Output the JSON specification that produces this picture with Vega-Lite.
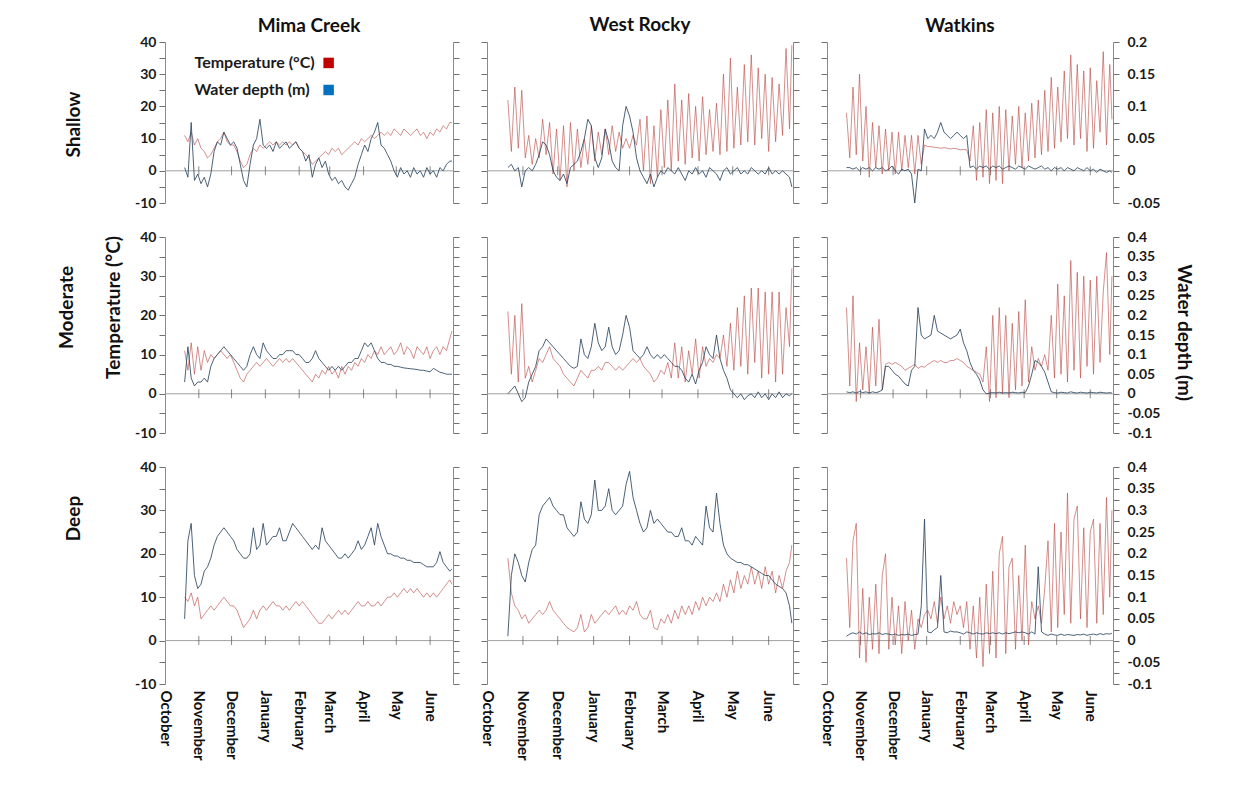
{
"$schema":"https://vega.github.io/schema/vega-lite/v6.json",
"autosize":{"type":"none"},
"padding":{"left":165,"top":42,"right":1090,"bottom":768},
"background":"white",
"config":{"view":{"stroke":null},"font":"Lato","axis":{"labelOverlap":false}},
"datasets":{
"months":[{"m":"2013-11-01"},{"m":"2013-12-01"},{"m":"2014-01-01"},{"m":"2014-02-01"},{"m":"2014-03-01"},{"m":"2014-04-01"},{"m":"2014-05-01"},{"m":"2014-06-01"}],
"MS":[
{"d":"2013-10-19","t":11,"w":0.005},{"d":"2013-10-22","t":9,"w":-0.01},{"d":"2013-10-25","t":12,"w":0.075},{"d":"2013-10-28","t":8,"w":-0.015},{"d":"2013-10-31","t":10,"w":-0.005},
{"d":"2013-11-03","t":7,"w":-0.02},{"d":"2013-11-06","t":6,"w":-0.01},{"d":"2013-11-09","t":4,"w":-0.025},{"d":"2013-11-12","t":5,"w":-0.005},{"d":"2013-11-15","t":7,"w":0.03},
{"d":"2013-11-18","t":9,"w":0.045},{"d":"2013-11-21","t":10,"w":0.04},{"d":"2013-11-24","t":12,"w":0.06},{"d":"2013-11-27","t":9,"w":0.05},{"d":"2013-11-30","t":8,"w":0.04},
{"d":"2013-12-03","t":8,"w":0.045},{"d":"2013-12-06","t":6,"w":0.035},{"d":"2013-12-09","t":3,"w":0.01},{"d":"2013-12-12","t":1,"w":-0.015},{"d":"2013-12-15","t":2,"w":-0.025},
{"d":"2013-12-18","t":5,"w":0.01},{"d":"2013-12-21","t":7,"w":0.04},{"d":"2013-12-24","t":6,"w":0.05},{"d":"2013-12-27","t":8,"w":0.08},{"d":"2013-12-30","t":7,"w":0.04},
{"d":"2014-01-02","t":8,"w":0.035},{"d":"2014-01-05","t":9,"w":0.04},{"d":"2014-01-08","t":8,"w":0.03},{"d":"2014-01-11","t":9,"w":0.045},{"d":"2014-01-14","t":8,"w":0.035},
{"d":"2014-01-17","t":9,"w":0.04},{"d":"2014-01-20","t":8,"w":0.045},{"d":"2014-01-23","t":9,"w":0.035},{"d":"2014-01-26","t":8,"w":0.04},{"d":"2014-01-29","t":9,"w":0.045},
{"d":"2014-02-01","t":7,"w":0.035},{"d":"2014-02-04","t":6,"w":0.03},{"d":"2014-02-07","t":5,"w":0.015},{"d":"2014-02-10","t":4,"w":0.025},{"d":"2014-02-13","t":2,"w":-0.01},
{"d":"2014-02-16","t":3,"w":0.01},{"d":"2014-02-19","t":4,"w":0.02},{"d":"2014-02-22","t":5,"w":0.005},{"d":"2014-02-25","t":6,"w":0.015},{"d":"2014-02-28","t":5,"w":-0.005},
{"d":"2014-03-03","t":7,"w":-0.015},{"d":"2014-03-06","t":6,"w":-0.01},{"d":"2014-03-09","t":7,"w":-0.02},{"d":"2014-03-12","t":5,"w":-0.015},{"d":"2014-03-15","t":6,"w":-0.025},
{"d":"2014-03-18","t":7,"w":-0.03},{"d":"2014-03-21","t":8,"w":-0.02},{"d":"2014-03-24","t":9,"w":-0.01},{"d":"2014-03-27","t":8,"w":0.01},{"d":"2014-03-30","t":10,"w":0.025},
{"d":"2014-04-02","t":9,"w":0.04},{"d":"2014-04-05","t":10,"w":0.03},{"d":"2014-04-08","t":11,"w":0.05},{"d":"2014-04-11","t":10,"w":0.06},{"d":"2014-04-14","t":11,"w":0.075},
{"d":"2014-04-17","t":12,"w":0.04},{"d":"2014-04-20","t":11,"w":0.035},{"d":"2014-04-23","t":12,"w":0.025},{"d":"2014-04-26","t":11,"w":0.015},{"d":"2014-04-29","t":13,"w":0},
{"d":"2014-05-02","t":12,"w":-0.01},{"d":"2014-05-05","t":11,"w":0.005},{"d":"2014-05-08","t":13,"w":-0.005},{"d":"2014-05-11","t":12,"w":0},{"d":"2014-05-14","t":11,"w":-0.01},
{"d":"2014-05-17","t":12,"w":0.005},{"d":"2014-05-20","t":13,"w":-0.005},{"d":"2014-05-23","t":11,"w":0},{"d":"2014-05-26","t":12,"w":-0.01},{"d":"2014-05-29","t":10,"w":0.005},
{"d":"2014-06-01","t":12,"w":-0.005},{"d":"2014-06-04","t":11,"w":0},{"d":"2014-06-07","t":13,"w":-0.01},{"d":"2014-06-10","t":12,"w":0.005},{"d":"2014-06-13","t":14,"w":0},
{"d":"2014-06-16","t":13,"w":0.01},{"d":"2014-06-19","t":15,"w":0.015},{"d":"2014-06-21","t":15,"w":0.015}],
"MM":[
{"d":"2013-10-19","t":11,"w":0.03},{"d":"2013-10-22","t":6,"w":0.12},{"d":"2013-10-25","t":13,"w":0.04},{"d":"2013-10-28","t":5,"w":0.02},{"d":"2013-10-31","t":12,"w":0.03},
{"d":"2013-11-03","t":6,"w":0.03},{"d":"2013-11-06","t":11,"w":0.04},{"d":"2013-11-09","t":8,"w":0.03},{"d":"2013-11-12","t":10,"w":0.07},{"d":"2013-11-15","t":9,"w":0.09},
{"d":"2013-11-18","t":10,"w":0.1},{"d":"2013-11-21","t":11,"w":0.11},{"d":"2013-11-24","t":10,"w":0.12},{"d":"2013-11-27","t":9,"w":0.11},{"d":"2013-11-30","t":10,"w":0.1},
{"d":"2013-12-03","t":8,"w":0.09},{"d":"2013-12-06","t":6,"w":0.08},{"d":"2013-12-09","t":4,"w":0.07},{"d":"2013-12-12","t":3,"w":0.06},{"d":"2013-12-15","t":5,"w":0.07},
{"d":"2013-12-18","t":6,"w":0.1},{"d":"2013-12-21","t":7,"w":0.12},{"d":"2013-12-24","t":8,"w":0.1},{"d":"2013-12-27","t":7,"w":0.09},{"d":"2013-12-30","t":8,"w":0.13},
{"d":"2014-01-02","t":9,"w":0.11},{"d":"2014-01-05","t":8,"w":0.1},{"d":"2014-01-08","t":7,"w":0.09},{"d":"2014-01-11","t":8,"w":0.09},{"d":"2014-01-14","t":9,"w":0.1},
{"d":"2014-01-17","t":8,"w":0.1},{"d":"2014-01-20","t":9,"w":0.11},{"d":"2014-01-23","t":8,"w":0.11},{"d":"2014-01-26","t":9,"w":0.11},{"d":"2014-01-29","t":8,"w":0.1},
{"d":"2014-02-01","t":7,"w":0.1},{"d":"2014-02-04","t":6,"w":0.09},{"d":"2014-02-07","t":5,"w":0.08},{"d":"2014-02-10","t":4,"w":0.08},{"d":"2014-02-13","t":3,"w":0.09},
{"d":"2014-02-16","t":5,"w":0.11},{"d":"2014-02-19","t":4,"w":0.09},{"d":"2014-02-22","t":6,"w":0.08},{"d":"2014-02-25","t":5,"w":0.07},{"d":"2014-02-28","t":7,"w":0.06},
{"d":"2014-03-03","t":5,"w":0.07},{"d":"2014-03-06","t":6,"w":0.06},{"d":"2014-03-09","t":4,"w":0.07},{"d":"2014-03-12","t":7,"w":0.06},{"d":"2014-03-15","t":5,"w":0.07},
{"d":"2014-03-18","t":7,"w":0.08},{"d":"2014-03-21","t":6,"w":0.08},{"d":"2014-03-24","t":8,"w":0.09},{"d":"2014-03-27","t":7,"w":0.09},{"d":"2014-03-30","t":9,"w":0.11},
{"d":"2014-04-02","t":8,"w":0.13},{"d":"2014-04-05","t":10,"w":0.12},{"d":"2014-04-08","t":9,"w":0.13},{"d":"2014-04-11","t":11,"w":0.11},{"d":"2014-04-14","t":10,"w":0.09},
{"d":"2014-04-17","t":12,"w":0.08},{"d":"2014-04-20","t":10,"w":0.08},{"d":"2014-04-23","t":11,"w":0.075},{"d":"2014-04-26","t":12,"w":0.075},{"d":"2014-04-29","t":10,"w":0.07},
{"d":"2014-05-02","t":11,"w":0.07},{"d":"2014-05-05","t":13,"w":0.068},{"d":"2014-05-08","t":10,"w":0.066},{"d":"2014-05-11","t":12,"w":0.065},{"d":"2014-05-14","t":11,"w":0.064},
{"d":"2014-05-17","t":9,"w":0.063},{"d":"2014-05-20","t":12,"w":0.062},{"d":"2014-05-23","t":11,"w":0.06},{"d":"2014-05-26","t":10,"w":0.06},{"d":"2014-05-29","t":12,"w":0.058},
{"d":"2014-06-01","t":9,"w":0.056},{"d":"2014-06-04","t":11,"w":0.065},{"d":"2014-06-07","t":12,"w":0.06},{"d":"2014-06-10","t":10,"w":0.055},{"d":"2014-06-13","t":12,"w":0.053},
{"d":"2014-06-16","t":11,"w":0.05},{"d":"2014-06-19","t":14,"w":0.05},{"d":"2014-06-21","t":16,"w":0.05}],
"MD":[
{"d":"2013-10-19","t":10,"w":0.05},{"d":"2013-10-22","t":9,"w":0.23},{"d":"2013-10-25","t":11,"w":0.27},{"d":"2013-10-28","t":8,"w":0.15},{"d":"2013-10-31","t":10,"w":0.12},
{"d":"2013-11-03","t":5,"w":0.13},{"d":"2013-11-06","t":6,"w":0.16},{"d":"2013-11-09","t":7,"w":0.17},{"d":"2013-11-12","t":8,"w":0.19},{"d":"2013-11-15","t":7,"w":0.22},
{"d":"2013-11-18","t":8,"w":0.24},{"d":"2013-11-21","t":9,"w":0.25},{"d":"2013-11-24","t":10,"w":0.26},{"d":"2013-11-27","t":9,"w":0.25},{"d":"2013-11-30","t":8,"w":0.24},
{"d":"2013-12-03","t":8,"w":0.23},{"d":"2013-12-06","t":7,"w":0.21},{"d":"2013-12-09","t":5,"w":0.2},{"d":"2013-12-12","t":3,"w":0.19},{"d":"2013-12-15","t":4,"w":0.19},
{"d":"2013-12-18","t":5,"w":0.2},{"d":"2013-12-21","t":7,"w":0.26},{"d":"2013-12-24","t":5,"w":0.21},{"d":"2013-12-27","t":7,"w":0.22},{"d":"2013-12-30","t":8,"w":0.27},
{"d":"2014-01-02","t":7,"w":0.22},{"d":"2014-01-05","t":8,"w":0.23},{"d":"2014-01-08","t":9,"w":0.24},{"d":"2014-01-11","t":8,"w":0.24},{"d":"2014-01-14","t":8,"w":0.26},
{"d":"2014-01-17","t":7,"w":0.23},{"d":"2014-01-20","t":8,"w":0.23},{"d":"2014-01-23","t":7,"w":0.25},{"d":"2014-01-26","t":8,"w":0.27},{"d":"2014-01-29","t":9,"w":0.26},
{"d":"2014-02-01","t":8,"w":0.25},{"d":"2014-02-04","t":9,"w":0.24},{"d":"2014-02-07","t":8,"w":0.23},{"d":"2014-02-10","t":7,"w":0.22},{"d":"2014-02-13","t":6,"w":0.21},
{"d":"2014-02-16","t":5,"w":0.22},{"d":"2014-02-19","t":4,"w":0.21},{"d":"2014-02-22","t":4,"w":0.26},{"d":"2014-02-25","t":5,"w":0.23},{"d":"2014-02-28","t":6,"w":0.22},
{"d":"2014-03-03","t":5,"w":0.21},{"d":"2014-03-06","t":6,"w":0.2},{"d":"2014-03-09","t":7,"w":0.19},{"d":"2014-03-12","t":6,"w":0.19},{"d":"2014-03-15","t":7,"w":0.2},
{"d":"2014-03-18","t":6,"w":0.19},{"d":"2014-03-21","t":7,"w":0.2},{"d":"2014-03-24","t":8,"w":0.21},{"d":"2014-03-27","t":9,"w":0.23},{"d":"2014-03-30","t":8,"w":0.21},
{"d":"2014-04-02","t":8,"w":0.22},{"d":"2014-04-05","t":9,"w":0.24},{"d":"2014-04-08","t":8,"w":0.26},{"d":"2014-04-11","t":8,"w":0.22},{"d":"2014-04-14","t":9,"w":0.27},
{"d":"2014-04-17","t":8,"w":0.24},{"d":"2014-04-20","t":9,"w":0.22},{"d":"2014-04-23","t":10,"w":0.2},{"d":"2014-04-26","t":10,"w":0.2},{"d":"2014-04-29","t":11,"w":0.195},
{"d":"2014-05-02","t":10,"w":0.195},{"d":"2014-05-05","t":11,"w":0.19},{"d":"2014-05-08","t":12,"w":0.19},{"d":"2014-05-11","t":11,"w":0.185},{"d":"2014-05-14","t":12,"w":0.185},
{"d":"2014-05-17","t":11,"w":0.18},{"d":"2014-05-20","t":12,"w":0.18},{"d":"2014-05-23","t":11,"w":0.18},{"d":"2014-05-26","t":10,"w":0.175},{"d":"2014-05-29","t":11,"w":0.17},
{"d":"2014-06-01","t":10,"w":0.17},{"d":"2014-06-04","t":11,"w":0.17},{"d":"2014-06-07","t":10,"w":0.18},{"d":"2014-06-10","t":11,"w":0.205},{"d":"2014-06-13","t":12,"w":0.18},
{"d":"2014-06-16","t":13,"w":0.17},{"d":"2014-06-19","t":14,"w":0.16},{"d":"2014-06-21","t":13,"w":0.165}],
"WS":[
{"d":"2013-10-19","t":22,"w":0.005},{"d":"2013-10-22","t":6,"w":0.01},{"d":"2013-10-25","t":26,"w":0},{"d":"2013-10-28","t":7,"w":0.005},{"d":"2013-10-31","t":25,"w":-0.025},
{"d":"2013-11-03","t":4,"w":0},{"d":"2013-11-06","t":11,"w":0.005},{"d":"2013-11-09","t":2,"w":0},{"d":"2013-11-12","t":10,"w":0.01},{"d":"2013-11-15","t":4,"w":0.025},
{"d":"2013-11-18","t":16,"w":0.045},{"d":"2013-11-21","t":5,"w":0.04},{"d":"2013-11-24","t":15,"w":0.025},{"d":"2013-11-27","t":-1,"w":0},{"d":"2013-11-30","t":13,"w":-0.01},
{"d":"2013-12-03","t":-3,"w":-0.015},{"d":"2013-12-06","t":14,"w":-0.005},{"d":"2013-12-09","t":-5,"w":-0.02},{"d":"2013-12-12","t":15,"w":0.005},{"d":"2013-12-15","t":0,"w":0.01},
{"d":"2013-12-18","t":13,"w":0.015},{"d":"2013-12-21","t":1,"w":0.03},{"d":"2013-12-24","t":10,"w":0.05},{"d":"2013-12-27","t":2,"w":0.08},{"d":"2013-12-30","t":14,"w":0.07},
{"d":"2014-01-02","t":3,"w":0.02},{"d":"2014-01-05","t":12,"w":0.005},{"d":"2014-01-08","t":5,"w":0.02},{"d":"2014-01-11","t":13,"w":0.065},{"d":"2014-01-14","t":5,"w":0.045},
{"d":"2014-01-17","t":14,"w":0.015},{"d":"2014-01-20","t":6,"w":0.005},{"d":"2014-01-23","t":12,"w":0},{"d":"2014-01-26","t":7,"w":0.07},{"d":"2014-01-29","t":10,"w":0.1},
{"d":"2014-02-01","t":7,"w":0.085},{"d":"2014-02-04","t":11,"w":0.06},{"d":"2014-02-07","t":8,"w":0.02},{"d":"2014-02-10","t":16,"w":0},{"d":"2014-02-13","t":0,"w":-0.01},
{"d":"2014-02-16","t":17,"w":-0.02},{"d":"2014-02-19","t":-4,"w":-0.005},{"d":"2014-02-22","t":14,"w":-0.025},{"d":"2014-02-25","t":-2,"w":-0.01},{"d":"2014-02-28","t":19,"w":0},
{"d":"2014-03-03","t":1,"w":-0.005},{"d":"2014-03-06","t":22,"w":0.005},{"d":"2014-03-09","t":0,"w":0},{"d":"2014-03-12","t":27,"w":-0.005},{"d":"2014-03-15","t":3,"w":0.005},
{"d":"2014-03-18","t":22,"w":-0.005},{"d":"2014-03-21","t":2,"w":-0.015},{"d":"2014-03-24","t":24,"w":0},{"d":"2014-03-27","t":4,"w":-0.005},{"d":"2014-03-30","t":20,"w":0.005},
{"d":"2014-04-02","t":3,"w":-0.005},{"d":"2014-04-05","t":23,"w":0},{"d":"2014-04-08","t":5,"w":-0.01},{"d":"2014-04-11","t":19,"w":0.005},{"d":"2014-04-14","t":6,"w":0},
{"d":"2014-04-17","t":21,"w":-0.005},{"d":"2014-04-20","t":5,"w":-0.015},{"d":"2014-04-23","t":30,"w":0},{"d":"2014-04-26","t":6,"w":0.005},{"d":"2014-04-29","t":35,"w":-0.005},
{"d":"2014-05-02","t":7,"w":0},{"d":"2014-05-05","t":26,"w":0.005},{"d":"2014-05-08","t":8,"w":-0.005},{"d":"2014-05-11","t":33,"w":0},{"d":"2014-05-14","t":9,"w":-0.005},
{"d":"2014-05-17","t":36,"w":0.005},{"d":"2014-05-20","t":8,"w":0},{"d":"2014-05-23","t":32,"w":-0.005},{"d":"2014-05-26","t":10,"w":0},{"d":"2014-05-29","t":30,"w":-0.005},
{"d":"2014-06-01","t":6,"w":0.005},{"d":"2014-06-04","t":29,"w":-0.005},{"d":"2014-06-07","t":9,"w":0},{"d":"2014-06-10","t":27,"w":-0.005},{"d":"2014-06-13","t":11,"w":0},
{"d":"2014-06-16","t":38,"w":-0.005},{"d":"2014-06-19","t":13,"w":-0.01},{"d":"2014-06-21","t":39,"w":-0.025}],
"WM":[
{"d":"2013-10-19","t":21,"w":0},{"d":"2013-10-22","t":5,"w":0.01},{"d":"2013-10-25","t":20,"w":0.02},{"d":"2013-10-28","t":3,"w":0},{"d":"2013-10-31","t":23,"w":-0.02},
{"d":"2013-11-03","t":4,"w":-0.01},{"d":"2013-11-06","t":7,"w":0.03},{"d":"2013-11-09","t":3,"w":0.05},{"d":"2013-11-12","t":6,"w":0.07},{"d":"2013-11-15","t":9,"w":0.11},
{"d":"2013-11-18","t":8,"w":0.12},{"d":"2013-11-21","t":10,"w":0.14},{"d":"2013-11-24","t":12,"w":0.13},{"d":"2013-11-27","t":9,"w":0.12},{"d":"2013-11-30","t":8,"w":0.11},
{"d":"2013-12-03","t":7,"w":0.1},{"d":"2013-12-06","t":5,"w":0.09},{"d":"2013-12-09","t":4,"w":0.08},{"d":"2013-12-12","t":3,"w":0.07},{"d":"2013-12-15","t":2,"w":0.065},
{"d":"2013-12-18","t":4,"w":0.07},{"d":"2013-12-21","t":6,"w":0.14},{"d":"2013-12-24","t":5,"w":0.1},{"d":"2013-12-27","t":4,"w":0.09},{"d":"2013-12-30","t":6,"w":0.12},
{"d":"2014-01-02","t":6,"w":0.18},{"d":"2014-01-05","t":7,"w":0.13},{"d":"2014-01-08","t":6,"w":0.11},{"d":"2014-01-11","t":8,"w":0.12},{"d":"2014-01-14","t":8,"w":0.17},
{"d":"2014-01-17","t":7,"w":0.12},{"d":"2014-01-20","t":6,"w":0.1},{"d":"2014-01-23","t":7,"w":0.11},{"d":"2014-01-26","t":6,"w":0.15},{"d":"2014-01-29","t":7,"w":0.2},
{"d":"2014-02-01","t":8,"w":0.17},{"d":"2014-02-04","t":9,"w":0.11},{"d":"2014-02-07","t":8,"w":0.1},{"d":"2014-02-10","t":9,"w":0.09},{"d":"2014-02-13","t":7,"w":0.1},
{"d":"2014-02-16","t":6,"w":0.12},{"d":"2014-02-19","t":5,"w":0.1},{"d":"2014-02-22","t":3,"w":0.09},{"d":"2014-02-25","t":4,"w":0.1},{"d":"2014-02-28","t":6,"w":0.09},
{"d":"2014-03-03","t":5,"w":0.1},{"d":"2014-03-06","t":8,"w":0.09},{"d":"2014-03-09","t":4,"w":0.08},{"d":"2014-03-12","t":13,"w":0.07},{"d":"2014-03-15","t":4,"w":0.07},
{"d":"2014-03-18","t":12,"w":0.06},{"d":"2014-03-21","t":3,"w":0.04},{"d":"2014-03-24","t":11,"w":0.03},{"d":"2014-03-27","t":5,"w":0.05},{"d":"2014-03-30","t":14,"w":0.025},
{"d":"2014-04-02","t":4,"w":0.06},{"d":"2014-04-05","t":12,"w":0.08},{"d":"2014-04-08","t":7,"w":0.12},{"d":"2014-04-11","t":9,"w":0.1},{"d":"2014-04-14","t":8,"w":0.09},
{"d":"2014-04-17","t":10,"w":0.15},{"d":"2014-04-20","t":9,"w":0.09},{"d":"2014-04-23","t":15,"w":0.06},{"d":"2014-04-26","t":7,"w":0.04},{"d":"2014-04-29","t":18,"w":0.01},
{"d":"2014-05-02","t":6,"w":0},{"d":"2014-05-05","t":22,"w":-0.01},{"d":"2014-05-08","t":7,"w":0},{"d":"2014-05-11","t":25,"w":-0.015},{"d":"2014-05-14","t":5,"w":-0.005},
{"d":"2014-05-17","t":27,"w":0},{"d":"2014-05-20","t":8,"w":-0.01},{"d":"2014-05-23","t":27,"w":0.005},{"d":"2014-05-26","t":4,"w":-0.01},{"d":"2014-05-29","t":26,"w":0},
{"d":"2014-06-01","t":5,"w":-0.015},{"d":"2014-06-04","t":26,"w":0},{"d":"2014-06-07","t":3,"w":-0.01},{"d":"2014-06-10","t":26,"w":0.005},{"d":"2014-06-13","t":5,"w":-0.01},
{"d":"2014-06-16","t":22,"w":0},{"d":"2014-06-19","t":12,"w":-0.005},{"d":"2014-06-21","t":32,"w":0}],
"WD":[
{"d":"2013-10-19","t":19,"w":0.01},{"d":"2013-10-22","t":11,"w":0.15},{"d":"2013-10-25","t":8,"w":0.2},{"d":"2013-10-28","t":7,"w":0.18},{"d":"2013-10-31","t":5,"w":0.15},
{"d":"2013-11-03","t":6,"w":0.135},{"d":"2013-11-06","t":4,"w":0.18},{"d":"2013-11-09","t":5,"w":0.21},{"d":"2013-11-12","t":6,"w":0.22},{"d":"2013-11-15","t":7,"w":0.29},
{"d":"2013-11-18","t":6,"w":0.31},{"d":"2013-11-21","t":7,"w":0.32},{"d":"2013-11-24","t":9,"w":0.33},{"d":"2013-11-27","t":7,"w":0.31},{"d":"2013-11-30","t":6,"w":0.3},
{"d":"2013-12-03","t":5,"w":0.29},{"d":"2013-12-06","t":4,"w":0.29},{"d":"2013-12-09","t":3,"w":0.26},{"d":"2013-12-12","t":2.5,"w":0.25},{"d":"2013-12-15","t":2,"w":0.24},
{"d":"2013-12-18","t":3,"w":0.25},{"d":"2013-12-21","t":6,"w":0.32},{"d":"2013-12-24","t":2,"w":0.28},{"d":"2013-12-27","t":3,"w":0.27},{"d":"2013-12-30","t":6,"w":0.29},
{"d":"2014-01-02","t":4,"w":0.37},{"d":"2014-01-05","t":5,"w":0.3},{"d":"2014-01-08","t":6,"w":0.3},{"d":"2014-01-11","t":7,"w":0.31},{"d":"2014-01-14","t":6,"w":0.35},
{"d":"2014-01-17","t":7,"w":0.3},{"d":"2014-01-20","t":8,"w":0.29},{"d":"2014-01-23","t":6,"w":0.3},{"d":"2014-01-26","t":7,"w":0.31},{"d":"2014-01-29","t":6,"w":0.36},
{"d":"2014-02-01","t":8,"w":0.39},{"d":"2014-02-04","t":7,"w":0.33},{"d":"2014-02-07","t":9,"w":0.3},{"d":"2014-02-10","t":6,"w":0.27},{"d":"2014-02-13","t":5,"w":0.25},
{"d":"2014-02-16","t":5,"w":0.26},{"d":"2014-02-19","t":7,"w":0.3},{"d":"2014-02-22","t":3,"w":0.27},{"d":"2014-02-25","t":2.5,"w":0.28},{"d":"2014-02-28","t":5,"w":0.27},
{"d":"2014-03-03","t":4,"w":0.26},{"d":"2014-03-06","t":6,"w":0.25},{"d":"2014-03-09","t":4,"w":0.25},{"d":"2014-03-12","t":7,"w":0.24},{"d":"2014-03-15","t":5,"w":0.24},
{"d":"2014-03-18","t":8,"w":0.26},{"d":"2014-03-21","t":6,"w":0.23},{"d":"2014-03-24","t":8,"w":0.23},{"d":"2014-03-27","t":6,"w":0.22},{"d":"2014-03-30","t":9,"w":0.24},
{"d":"2014-04-02","t":7,"w":0.23},{"d":"2014-04-05","t":10,"w":0.22},{"d":"2014-04-08","t":8,"w":0.31},{"d":"2014-04-11","t":10,"w":0.26},{"d":"2014-04-14","t":9,"w":0.25},
{"d":"2014-04-17","t":11,"w":0.34},{"d":"2014-04-20","t":9,"w":0.27},{"d":"2014-04-23","t":13,"w":0.22},{"d":"2014-04-26","t":10,"w":0.2},{"d":"2014-04-29","t":14,"w":0.19},
{"d":"2014-05-02","t":11,"w":0.185},{"d":"2014-05-05","t":16,"w":0.18},{"d":"2014-05-08","t":12,"w":0.18},{"d":"2014-05-11","t":15,"w":0.175},{"d":"2014-05-14","t":13,"w":0.175},
{"d":"2014-05-17","t":17,"w":0.17},{"d":"2014-05-20","t":13,"w":0.165},{"d":"2014-05-23","t":16,"w":0.16},{"d":"2014-05-26","t":12,"w":0.155},{"d":"2014-05-29","t":17,"w":0.15},
{"d":"2014-06-01","t":13,"w":0.15},{"d":"2014-06-04","t":16,"w":0.14},{"d":"2014-06-07","t":11,"w":0.13},{"d":"2014-06-10","t":15,"w":0.125},{"d":"2014-06-13","t":12,"w":0.12},
{"d":"2014-06-16","t":16,"w":0.11},{"d":"2014-06-19","t":18,"w":0.08},{"d":"2014-06-21","t":22,"w":0.04}],
"KS":[
{"d":"2013-10-19","t":18,"w":0.005},{"d":"2013-10-22","t":4,"w":0.005},{"d":"2013-10-25","t":26,"w":0.0025},{"d":"2013-10-28","t":5,"w":0.005},{"d":"2013-10-31","t":30,"w":0},
{"d":"2013-11-03","t":3,"w":0.005},{"d":"2013-11-06","t":20,"w":0.0025},{"d":"2013-11-09","t":-2,"w":0.005},{"d":"2013-11-12","t":15,"w":0},{"d":"2013-11-15","t":1,"w":0.005},
{"d":"2013-11-18","t":14,"w":0.0025},{"d":"2013-11-21","t":-1,"w":0.005},{"d":"2013-11-24","t":13,"w":0},{"d":"2013-11-27","t":0,"w":0.0025},{"d":"2013-11-30","t":12,"w":0.0075},
{"d":"2013-12-03","t":-1,"w":0},{"d":"2013-12-06","t":12,"w":-0.005},{"d":"2013-12-09","t":0,"w":0.0025},{"d":"2013-12-12","t":11,"w":0},{"d":"2013-12-15","t":1,"w":0.0025},
{"d":"2013-12-18","t":11,"w":-0.005},{"d":"2013-12-21","t":-1,"w":-0.05},{"d":"2013-12-24","t":11,"w":0.0025},{"d":"2013-12-27","t":2,"w":0},{"d":"2013-12-30","t":8,"w":0.065},
{"d":"2014-01-02","t":7.5,"w":0.05},{"d":"2014-01-05","t":7.5,"w":0.055},{"d":"2014-01-08","t":7.3,"w":0.05},{"d":"2014-01-11","t":7.2,"w":0.06},{"d":"2014-01-14","t":7,"w":0.075},
{"d":"2014-01-17","t":7.2,"w":0.06},{"d":"2014-01-20","t":7,"w":0.055},{"d":"2014-01-23","t":6.8,"w":0.05},{"d":"2014-01-26","t":7,"w":0.055},{"d":"2014-01-29","t":6.8,"w":0.06},
{"d":"2014-02-01","t":6.5,"w":0.055},{"d":"2014-02-04","t":6.6,"w":0.05},{"d":"2014-02-07","t":6.5,"w":0.055},{"d":"2014-02-10","t":3,"w":0.005},{"d":"2014-02-13","t":14,"w":0.0075},
{"d":"2014-02-16","t":-3,"w":0.0025},{"d":"2014-02-19","t":15,"w":0.0075},{"d":"2014-02-22","t":-2,"w":0.005},{"d":"2014-02-25","t":19,"w":0.0075},{"d":"2014-02-28","t":-4,"w":0.0025},
{"d":"2014-03-03","t":18,"w":0.0075},{"d":"2014-03-06","t":-3,"w":0.005},{"d":"2014-03-09","t":20,"w":0.0075},{"d":"2014-03-12","t":-4,"w":0.0025},{"d":"2014-03-15","t":19,"w":0.005},
{"d":"2014-03-18","t":0,"w":0.0075},{"d":"2014-03-21","t":17,"w":0.005},{"d":"2014-03-24","t":2,"w":0.0025},{"d":"2014-03-27","t":20,"w":0.0075},{"d":"2014-03-30","t":1,"w":0.005},
{"d":"2014-04-02","t":18,"w":0.0025},{"d":"2014-04-05","t":3,"w":0.0075},{"d":"2014-04-08","t":21,"w":0.005},{"d":"2014-04-11","t":4,"w":0.0025},{"d":"2014-04-14","t":22,"w":0.005},
{"d":"2014-04-17","t":5,"w":0.0075},{"d":"2014-04-20","t":25,"w":0.0025},{"d":"2014-04-23","t":6,"w":0.005},{"d":"2014-04-26","t":29,"w":0},{"d":"2014-04-29","t":7,"w":0.005},
{"d":"2014-05-02","t":26,"w":0.0025},{"d":"2014-05-05","t":9,"w":0.005},{"d":"2014-05-08","t":31,"w":0},{"d":"2014-05-11","t":10,"w":0.005},{"d":"2014-05-14","t":36,"w":0.0025},
{"d":"2014-05-17","t":8,"w":0},{"d":"2014-05-20","t":33,"w":0.005},{"d":"2014-05-23","t":10,"w":0.0025},{"d":"2014-05-26","t":31,"w":0},{"d":"2014-05-29","t":6,"w":0.005},
{"d":"2014-06-01","t":32,"w":0},{"d":"2014-06-04","t":7,"w":0.0025},{"d":"2014-06-07","t":28,"w":-0.0025},{"d":"2014-06-10","t":12,"w":0.0025},{"d":"2014-06-13","t":37,"w":0},
{"d":"2014-06-16","t":8,"w":-0.0025},{"d":"2014-06-19","t":33,"w":0},{"d":"2014-06-21","t":16,"w":-0.0025}],
"KM":[
{"d":"2013-10-19","t":22,"w":0.005},{"d":"2013-10-22","t":2,"w":0.003},{"d":"2013-10-25","t":25,"w":0.005},{"d":"2013-10-28","t":-2,"w":0.002},{"d":"2013-10-31","t":13,"w":0.006},
{"d":"2013-11-03","t":1,"w":0.003},{"d":"2013-11-06","t":12,"w":0.005},{"d":"2013-11-09","t":0,"w":0.002},{"d":"2013-11-12","t":17,"w":0.005},{"d":"2013-11-15","t":2,"w":0.003},
{"d":"2013-11-18","t":19,"w":0.005},{"d":"2013-11-21","t":1,"w":0.01},{"d":"2013-11-24","t":7.5,"w":0.07},{"d":"2013-11-27","t":8,"w":0.07},{"d":"2013-11-30","t":7.5,"w":0.06},
{"d":"2013-12-03","t":8,"w":0.05},{"d":"2013-12-06","t":7.5,"w":0.045},{"d":"2013-12-09","t":7,"w":0.035},{"d":"2013-12-12","t":6,"w":0.025},{"d":"2013-12-15","t":6.5,"w":0.02},
{"d":"2013-12-18","t":7,"w":0.06},{"d":"2013-12-21","t":7.5,"w":0.07},{"d":"2013-12-24","t":6.5,"w":0.22},{"d":"2013-12-27","t":7,"w":0.15},{"d":"2013-12-30","t":6.8,"w":0.14},
{"d":"2014-01-02","t":7.5,"w":0.145},{"d":"2014-01-05","t":8,"w":0.15},{"d":"2014-01-08","t":8.5,"w":0.2},{"d":"2014-01-11","t":8,"w":0.16},{"d":"2014-01-14","t":8.5,"w":0.155},
{"d":"2014-01-17","t":8,"w":0.15},{"d":"2014-01-20","t":8,"w":0.145},{"d":"2014-01-23","t":8.5,"w":0.14},{"d":"2014-01-26","t":8.5,"w":0.145},{"d":"2014-01-29","t":9,"w":0.15},
{"d":"2014-02-01","t":8.5,"w":0.165},{"d":"2014-02-04","t":8,"w":0.13},{"d":"2014-02-07","t":7,"w":0.11},{"d":"2014-02-10","t":6.5,"w":0.08},{"d":"2014-02-13","t":6,"w":0.06},
{"d":"2014-02-16","t":5.5,"w":0.05},{"d":"2014-02-19","t":5,"w":0.035},{"d":"2014-02-22","t":3,"w":0.01},{"d":"2014-02-25","t":12,"w":0},{"d":"2014-02-28","t":-2,"w":0.002},
{"d":"2014-03-03","t":20,"w":0.003},{"d":"2014-03-06","t":-1,"w":0.002},{"d":"2014-03-09","t":22,"w":0.004},{"d":"2014-03-12","t":0,"w":0.002},{"d":"2014-03-15","t":20,"w":0.003},
{"d":"2014-03-18","t":-1,"w":0.002},{"d":"2014-03-21","t":18,"w":0.004},{"d":"2014-03-24","t":1,"w":0.003},{"d":"2014-03-27","t":21,"w":0.002},{"d":"2014-03-30","t":2,"w":0.004},
{"d":"2014-04-02","t":24,"w":0.003},{"d":"2014-04-05","t":3,"w":0.02},{"d":"2014-04-08","t":12,"w":0.05},{"d":"2014-04-11","t":6,"w":0.085},{"d":"2014-04-14","t":9,"w":0.08},
{"d":"2014-04-17","t":7,"w":0.07},{"d":"2014-04-20","t":10,"w":0.055},{"d":"2014-04-23","t":6,"w":0.03},{"d":"2014-04-26","t":20,"w":0.005},{"d":"2014-04-29","t":4,"w":0.003},
{"d":"2014-05-02","t":28,"w":0.002},{"d":"2014-05-05","t":5,"w":0.004},{"d":"2014-05-08","t":25,"w":0.003},{"d":"2014-05-11","t":3,"w":0.002},{"d":"2014-05-14","t":34,"w":0.005},
{"d":"2014-05-17","t":6,"w":0.003},{"d":"2014-05-20","t":31,"w":0.002},{"d":"2014-05-23","t":4,"w":0.004},{"d":"2014-05-26","t":30,"w":0.003},{"d":"2014-05-29","t":7,"w":0.002},
{"d":"2014-06-01","t":29,"w":0.004},{"d":"2014-06-04","t":5,"w":0.003},{"d":"2014-06-07","t":30,"w":0.002},{"d":"2014-06-10","t":8,"w":0.004},{"d":"2014-06-13","t":26,"w":0.003},
{"d":"2014-06-16","t":36,"w":0.002},{"d":"2014-06-19","t":10,"w":0.003},{"d":"2014-06-21","t":30,"w":0.002}],
"KD":[
{"d":"2013-10-19","t":19,"w":0.01},{"d":"2013-10-22","t":3,"w":0.015},{"d":"2013-10-25","t":23,"w":0.018},{"d":"2013-10-28","t":27,"w":0.015},{"d":"2013-10-31","t":-4,"w":0.02},
{"d":"2013-11-03","t":12,"w":0.015},{"d":"2013-11-06","t":-5,"w":0.018},{"d":"2013-11-09","t":10,"w":0.014},{"d":"2013-11-12","t":-2,"w":0.016},{"d":"2013-11-15","t":13,"w":0.015},
{"d":"2013-11-18","t":-3,"w":0.018},{"d":"2013-11-21","t":15,"w":0.014},{"d":"2013-11-24","t":20,"w":0.016},{"d":"2013-11-27","t":-2,"w":0.015},{"d":"2013-11-30","t":10,"w":0.013},
{"d":"2013-12-03","t":-1,"w":0.015},{"d":"2013-12-06","t":8,"w":0.012},{"d":"2013-12-09","t":-3,"w":0.014},{"d":"2013-12-12","t":9,"w":0.013},{"d":"2013-12-15","t":0,"w":0.015},
{"d":"2013-12-18","t":7,"w":0.012},{"d":"2013-12-21","t":-2,"w":0.014},{"d":"2013-12-24","t":5,"w":0.015},{"d":"2013-12-27","t":3,"w":0.08},{"d":"2013-12-30","t":6,"w":0.28},
{"d":"2014-01-02","t":7,"w":0.02},{"d":"2014-01-05","t":5,"w":0.018},{"d":"2014-01-08","t":9,"w":0.025},{"d":"2014-01-11","t":4,"w":0.03},{"d":"2014-01-14","t":10,"w":0.15},
{"d":"2014-01-17","t":5,"w":0.02},{"d":"2014-01-20","t":8,"w":0.018},{"d":"2014-01-23","t":4,"w":0.022},{"d":"2014-01-26","t":9,"w":0.02},{"d":"2014-01-29","t":6,"w":0.02},
{"d":"2014-02-01","t":8,"w":0.018},{"d":"2014-02-04","t":3,"w":0.015},{"d":"2014-02-07","t":9,"w":0.02},{"d":"2014-02-10","t":-2,"w":0.018},{"d":"2014-02-13","t":8,"w":0.015},
{"d":"2014-02-16","t":-4,"w":0.018},{"d":"2014-02-19","t":10,"w":0.016},{"d":"2014-02-22","t":-6,"w":0.015},{"d":"2014-02-25","t":13,"w":0.018},{"d":"2014-02-28","t":-3,"w":0.016},
{"d":"2014-03-03","t":16,"w":0.018},{"d":"2014-03-06","t":-4,"w":0.016},{"d":"2014-03-09","t":20,"w":0.018},{"d":"2014-03-12","t":24,"w":0.015},{"d":"2014-03-15","t":-3,"w":0.018},
{"d":"2014-03-18","t":17,"w":0.016},{"d":"2014-03-21","t":19,"w":0.018},{"d":"2014-03-24","t":-2,"w":0.02},{"d":"2014-03-27","t":15,"w":0.018},{"d":"2014-03-30","t":0,"w":0.02},
{"d":"2014-04-02","t":22,"w":0.018},{"d":"2014-04-05","t":-1,"w":0.015},{"d":"2014-04-08","t":9,"w":0.02},{"d":"2014-04-11","t":5,"w":0.015},{"d":"2014-04-14","t":8,"w":0.17},
{"d":"2014-04-17","t":4,"w":0.02},{"d":"2014-04-20","t":12,"w":0.015},{"d":"2014-04-23","t":23,"w":0.012},{"d":"2014-04-26","t":2,"w":0.015},{"d":"2014-04-29","t":27,"w":0.013},
{"d":"2014-05-02","t":3,"w":0.012},{"d":"2014-05-05","t":25,"w":0.015},{"d":"2014-05-08","t":6,"w":0.012},{"d":"2014-05-11","t":34,"w":0.014},{"d":"2014-05-14","t":4,"w":0.013},
{"d":"2014-05-17","t":28,"w":0.012},{"d":"2014-05-20","t":31,"w":0.014},{"d":"2014-05-23","t":5,"w":0.013},{"d":"2014-05-26","t":26,"w":0.015},{"d":"2014-05-29","t":3,"w":0.012},
{"d":"2014-06-01","t":25,"w":0.014},{"d":"2014-06-04","t":28,"w":0.015},{"d":"2014-06-07","t":4,"w":0.013},{"d":"2014-06-10","t":27,"w":0.016},{"d":"2014-06-13","t":6,"w":0.014},
{"d":"2014-06-16","t":33,"w":0.016},{"d":"2014-06-19","t":10,"w":0.015},{"d":"2014-06-21","t":30,"w":0.017}]
},
"columns":3,
"spacing":34,
"bounds":"flush",
"concat":[
{"width":288,"height":161,"data":{"name":"MS"},
 "title":{"text":"Mima Creek","font":"Lato","fontSize":19,"fontWeight":"bold","color":"#111111","offset":-1,"frame":"group"},
 "layer":[
  {"layer":[
   {"data":{"values":[{}]},"mark":{"type":"rule","color":"#a0a0a0","strokeWidth":1},"encoding":{"y":{"datum":0,"type":"quantitative","scale":{"domain":[-10,40],"nice":false},"axis":{"values":[-10,-5,0,5,10,15,20,25,30,35,40],"tickCount":50,"labelExpr":"datum.value % 10 == 0 ? '' + datum.value : ''","domainColor":"#8a8a8a","tickColor":"#707070","tickSize":6,"labelFont":"Lato","labelFontSize":14,"labelFontWeight":"bold","labelColor":"#1a1a1a","labelPadding":3,"grid":false,"title":"Shallow","titleFont":"Lato","titleFontSize":19,"titleFontWeight":"bold","titleColor":"#111111","titleAngle":-90,"titleX":-92,"titleY":82,"titleAlign":"center","titleBaseline":"middle"}}}},
   {"data":{"name":"months"},"mark":{"type":"tick","orient":"vertical","size":9,"thickness":1,"color":"#555555"},"encoding":{"x":{"field":"m","type":"temporal","scale":{"domain":[{"year":2013,"month":10,"date":1},{"year":2014,"month":6,"date":22}],"nice":false}},"y":{"datum":0,"type":"quantitative"}}},
   {"mark":{"type":"line","color":"#b8453f","strokeWidth":1,"opacity":0.6,"clip":true},"encoding":{"x":{"field":"d","type":"temporal","axis":{"labels":false,"ticks":false,"domain":false,"grid":false,"title":null}},"y":{"field":"t","type":"quantitative"}}},
   {"data":{"values":[{}]},"mark":{"type":"text","align":"left","baseline":"middle","font":"Lato","fontSize":16,"fontWeight":"bold","color":"#1a1a1a"},"encoding":{"x":{"datum":{"year":2013,"month":10,"date":28},"type":"temporal"},"y":{"datum":33.5,"type":"quantitative"},"text":{"value":"Temperature (°C)"}}},
   {"data":{"values":[{}]},"mark":{"type":"text","align":"left","baseline":"middle","font":"Lato","fontSize":16,"fontWeight":"bold","color":"#1a1a1a"},"encoding":{"x":{"datum":{"year":2013,"month":10,"date":28},"type":"temporal"},"y":{"datum":25.1,"type":"quantitative"},"text":{"value":"Water depth (m)"}}},
   {"data":{"values":[{}]},"mark":{"type":"square","size":110,"color":"#c00000","opacity":1},"encoding":{"x":{"datum":{"year":2014,"month":2,"date":28},"type":"temporal"},"y":{"datum":33.5,"type":"quantitative"}}},
   {"data":{"values":[{}]},"mark":{"type":"square","size":110,"color":"#0070c0","opacity":1},"encoding":{"x":{"datum":{"year":2014,"month":2,"date":28},"type":"temporal"},"y":{"datum":25.1,"type":"quantitative"}}}
  ]},
  {"mark":{"type":"line","color":"#2b4660","strokeWidth":1,"opacity":0.85,"clip":true},"encoding":{"x":{"field":"d","type":"temporal"},"y":{"field":"w","type":"quantitative","scale":{"domain":[-0.05,0.2],"nice":false},"axis":{"orient":"right","values":[-0.05,-0.025,0,0.025,0.05,0.075,0.1,0.125,0.15,0.175,0.2],"tickCount":50,"labels":false,"domainColor":"#8a8a8a","tickColor":"#707070","tickSize":6,"grid":false,"title":null}}}}
 ],
 "resolve":{"scale":{"y":"independent"}}},
{"width":306,"height":161,"data":{"name":"WS"},
 "title":{"text":"West Rocky","font":"Lato","fontSize":19,"fontWeight":"bold","color":"#111111","offset":7,"frame":"group"},
 "layer":[
  {"layer":[
   {"data":{"values":[{}]},"mark":{"type":"rule","color":"#a0a0a0","strokeWidth":1},"encoding":{"y":{"datum":0,"type":"quantitative","scale":{"domain":[-10,40],"nice":false},"axis":{"values":[-10,-5,0,5,10,15,20,25,30,35,40],"tickCount":50,"labels":false,"domainColor":"#8a8a8a","tickColor":"#707070","tickSize":6,"grid":false,"title":null}}}},
   {"data":{"name":"months"},"mark":{"type":"tick","orient":"vertical","size":9,"thickness":1,"color":"#555555"},"encoding":{"x":{"field":"m","type":"temporal","scale":{"domain":[{"year":2013,"month":10,"date":1},{"year":2014,"month":6,"date":22}],"nice":false}},"y":{"datum":0,"type":"quantitative"}}},
   {"mark":{"type":"line","color":"#b8453f","strokeWidth":1,"opacity":0.6,"clip":true},"encoding":{"x":{"field":"d","type":"temporal","axis":{"labels":false,"ticks":false,"domain":false,"grid":false,"title":null}},"y":{"field":"t","type":"quantitative"}}}
  ]},
  {"mark":{"type":"line","color":"#2b4660","strokeWidth":1,"opacity":0.85,"clip":true},"encoding":{"x":{"field":"d","type":"temporal"},"y":{"field":"w","type":"quantitative","scale":{"domain":[-0.05,0.2],"nice":false},"axis":{"orient":"right","values":[-0.05,-0.025,0,0.025,0.05,0.075,0.1,0.125,0.15,0.175,0.2],"tickCount":50,"labels":false,"domainColor":"#8a8a8a","tickColor":"#707070","tickSize":6,"grid":false,"title":null}}}}
 ],
 "resolve":{"scale":{"y":"independent"}}},
{"width":286,"height":161,"data":{"name":"KS"},
 "title":{"text":"Watkins","font":"Lato","fontSize":19,"fontWeight":"bold","color":"#111111","offset":-1,"dx":-10,"frame":"group"},
 "layer":[
  {"layer":[
   {"data":{"values":[{}]},"mark":{"type":"rule","color":"#a0a0a0","strokeWidth":1},"encoding":{"y":{"datum":0,"type":"quantitative","scale":{"domain":[-10,40],"nice":false},"axis":{"values":[-10,-5,0,5,10,15,20,25,30,35,40],"tickCount":50,"labels":false,"domainColor":"#8a8a8a","tickColor":"#707070","tickSize":6,"grid":false,"title":null}}}},
   {"data":{"name":"months"},"mark":{"type":"tick","orient":"vertical","size":9,"thickness":1,"color":"#555555"},"encoding":{"x":{"field":"m","type":"temporal","scale":{"domain":[{"year":2013,"month":10,"date":1},{"year":2014,"month":6,"date":22}],"nice":false}},"y":{"datum":0,"type":"quantitative"}}},
   {"mark":{"type":"line","color":"#b8453f","strokeWidth":1,"opacity":0.6,"clip":true},"encoding":{"x":{"field":"d","type":"temporal","axis":{"labels":false,"ticks":false,"domain":false,"grid":false,"title":null}},"y":{"field":"t","type":"quantitative"}}}
  ]},
  {"mark":{"type":"line","color":"#2b4660","strokeWidth":1,"opacity":0.85,"clip":true},"encoding":{"x":{"field":"d","type":"temporal"},"y":{"field":"w","type":"quantitative","scale":{"domain":[-0.05,0.2],"nice":false},"axis":{"orient":"right","values":[-0.05,-0.025,0,0.025,0.05,0.075,0.1,0.125,0.15,0.175,0.2],"tickCount":50,"labelExpr":"abs(datum.value*20 - round(datum.value*20)) < 0.001 ? '' + datum.value : ''","labelFont":"Lato","labelFontSize":14,"labelFontWeight":"bold","labelColor":"#1a1a1a","labelPadding":8,"domainColor":"#8a8a8a","tickColor":"#707070","tickSize":6,"grid":false,"title":null}}}}
 ],
 "resolve":{"scale":{"y":"independent"}}},
{"width":288,"height":196,"data":{"name":"MM"},
 "layer":[
  {"layer":[
   {"data":{"values":[{}]},"mark":{"type":"rule","color":"#a0a0a0","strokeWidth":1},"encoding":{"y":{"datum":0,"type":"quantitative","scale":{"domain":[-10,40],"nice":false},"axis":{"values":[-10,-5,0,5,10,15,20,25,30,35,40],"tickCount":50,"labelExpr":"datum.value % 10 == 0 ? '' + datum.value : ''","domainColor":"#8a8a8a","tickColor":"#707070","tickSize":6,"labelFont":"Lato","labelFontSize":14,"labelFontWeight":"bold","labelColor":"#1a1a1a","labelPadding":3,"grid":false,"title":["Moderate","Temperature (°C)"],"titleFont":"Lato","titleFontSize":19,"titleFontWeight":"bold","titleColor":"#111111","titleAngle":-90,"titleX":-99,"titleY":70,"titleAlign":"center","titleBaseline":"middle","titleLineHeight":47}}}},
   {"data":{"name":"months"},"mark":{"type":"tick","orient":"vertical","size":9,"thickness":1,"color":"#555555"},"encoding":{"x":{"field":"m","type":"temporal","scale":{"domain":[{"year":2013,"month":10,"date":1},{"year":2014,"month":6,"date":22}],"nice":false}},"y":{"datum":0,"type":"quantitative"}}},
   {"mark":{"type":"line","color":"#b8453f","strokeWidth":1,"opacity":0.6,"clip":true},"encoding":{"x":{"field":"d","type":"temporal","axis":{"labels":false,"ticks":false,"domain":false,"grid":false,"title":null}},"y":{"field":"t","type":"quantitative"}}}
  ]},
  {"mark":{"type":"line","color":"#2b4660","strokeWidth":1,"opacity":0.85,"clip":true},"encoding":{"x":{"field":"d","type":"temporal"},"y":{"field":"w","type":"quantitative","scale":{"domain":[-0.1,0.4],"nice":false},"axis":{"orient":"right","values":[-0.1,-0.075,-0.05,-0.025,0,0.025,0.05,0.075,0.1,0.125,0.15,0.175,0.2,0.225,0.25,0.275,0.3,0.325,0.35,0.375,0.4],"tickCount":50,"labels":false,"domainColor":"#8a8a8a","tickColor":"#707070","tickSize":6,"grid":false,"title":null}}}}
 ],
 "resolve":{"scale":{"y":"independent"}}},
{"width":306,"height":196,"data":{"name":"WM"},
 "layer":[
  {"layer":[
   {"data":{"values":[{}]},"mark":{"type":"rule","color":"#a0a0a0","strokeWidth":1},"encoding":{"y":{"datum":0,"type":"quantitative","scale":{"domain":[-10,40],"nice":false},"axis":{"values":[-10,-5,0,5,10,15,20,25,30,35,40],"tickCount":50,"labels":false,"domainColor":"#8a8a8a","tickColor":"#707070","tickSize":6,"grid":false,"title":null}}}},
   {"data":{"name":"months"},"mark":{"type":"tick","orient":"vertical","size":9,"thickness":1,"color":"#555555"},"encoding":{"x":{"field":"m","type":"temporal","scale":{"domain":[{"year":2013,"month":10,"date":1},{"year":2014,"month":6,"date":22}],"nice":false}},"y":{"datum":0,"type":"quantitative"}}},
   {"mark":{"type":"line","color":"#b8453f","strokeWidth":1,"opacity":0.6,"clip":true},"encoding":{"x":{"field":"d","type":"temporal","axis":{"labels":false,"ticks":false,"domain":false,"grid":false,"title":null}},"y":{"field":"t","type":"quantitative"}}}
  ]},
  {"mark":{"type":"line","color":"#2b4660","strokeWidth":1,"opacity":0.85,"clip":true},"encoding":{"x":{"field":"d","type":"temporal"},"y":{"field":"w","type":"quantitative","scale":{"domain":[-0.1,0.4],"nice":false},"axis":{"orient":"right","values":[-0.1,-0.075,-0.05,-0.025,0,0.025,0.05,0.075,0.1,0.125,0.15,0.175,0.2,0.225,0.25,0.275,0.3,0.325,0.35,0.375,0.4],"tickCount":50,"labels":false,"domainColor":"#8a8a8a","tickColor":"#707070","tickSize":6,"grid":false,"title":null}}}}
 ],
 "resolve":{"scale":{"y":"independent"}}},
{"width":286,"height":196,"data":{"name":"KM"},
 "layer":[
  {"layer":[
   {"data":{"values":[{}]},"mark":{"type":"rule","color":"#a0a0a0","strokeWidth":1},"encoding":{"y":{"datum":0,"type":"quantitative","scale":{"domain":[-10,40],"nice":false},"axis":{"values":[-10,-5,0,5,10,15,20,25,30,35,40],"tickCount":50,"labels":false,"domainColor":"#8a8a8a","tickColor":"#707070","tickSize":6,"grid":false,"title":null}}}},
   {"data":{"name":"months"},"mark":{"type":"tick","orient":"vertical","size":9,"thickness":1,"color":"#555555"},"encoding":{"x":{"field":"m","type":"temporal","scale":{"domain":[{"year":2013,"month":10,"date":1},{"year":2014,"month":6,"date":22}],"nice":false}},"y":{"datum":0,"type":"quantitative"}}},
   {"mark":{"type":"line","color":"#b8453f","strokeWidth":1,"opacity":0.6,"clip":true},"encoding":{"x":{"field":"d","type":"temporal","axis":{"labels":false,"ticks":false,"domain":false,"grid":false,"title":null}},"y":{"field":"t","type":"quantitative"}}}
  ]},
  {"mark":{"type":"line","color":"#2b4660","strokeWidth":1,"opacity":0.85,"clip":true},"encoding":{"x":{"field":"d","type":"temporal"},"y":{"field":"w","type":"quantitative","scale":{"domain":[-0.1,0.4],"nice":false},"axis":{"orient":"right","values":[-0.1,-0.075,-0.05,-0.025,0,0.025,0.05,0.075,0.1,0.125,0.15,0.175,0.2,0.225,0.25,0.275,0.3,0.325,0.35,0.375,0.4],"tickCount":50,"labelExpr":"abs(datum.value*20 - round(datum.value*20)) < 0.001 ? '' + datum.value : ''","labelFont":"Lato","labelFontSize":14,"labelFontWeight":"bold","labelColor":"#1a1a1a","labelPadding":8,"domainColor":"#8a8a8a","tickColor":"#707070","tickSize":6,"grid":false,"title":"Water depth (m)","titleFont":"Lato","titleFontSize":19,"titleFontWeight":"bold","titleColor":"#111111","titleAngle":90,"titleX":70,"titleY":95,"titleAlign":"center","titleBaseline":"middle"}}}}
 ],
 "resolve":{"scale":{"y":"independent"}}},
{"width":288,"height":217,"data":{"name":"MD"},
 "layer":[
  {"layer":[
   {"data":{"values":[{}]},"mark":{"type":"rule","color":"#a0a0a0","strokeWidth":1},"encoding":{"y":{"datum":0,"type":"quantitative","scale":{"domain":[-10,40],"nice":false},"axis":{"values":[-10,-5,0,5,10,15,20,25,30,35,40],"tickCount":50,"labelExpr":"datum.value % 10 == 0 ? '' + datum.value : ''","domainColor":"#8a8a8a","tickColor":"#707070","tickSize":6,"labelFont":"Lato","labelFontSize":14,"labelFontWeight":"bold","labelColor":"#1a1a1a","labelPadding":3,"grid":false,"title":"Deep","titleFont":"Lato","titleFontSize":19,"titleFontWeight":"bold","titleColor":"#111111","titleAngle":-90,"titleX":-92,"titleY":51,"titleAlign":"center","titleBaseline":"middle"}}}},
   {"data":{"name":"months"},"mark":{"type":"tick","orient":"vertical","size":9,"thickness":1,"color":"#555555"},"encoding":{"x":{"field":"m","type":"temporal","scale":{"domain":[{"year":2013,"month":10,"date":1},{"year":2014,"month":6,"date":22}],"nice":false}},"y":{"datum":0,"type":"quantitative"}}},
   {"mark":{"type":"line","color":"#b8453f","strokeWidth":1,"opacity":0.6,"clip":true},"encoding":{"x":{"field":"d","type":"temporal","axis":{"values":[{"year":2013,"month":10,"date":1},{"year":2013,"month":11,"date":1},{"year":2013,"month":12,"date":1},{"year":2014,"month":1,"date":1},{"year":2014,"month":2,"date":1},{"year":2014,"month":3,"date":1},{"year":2014,"month":4,"date":1},{"year":2014,"month":5,"date":1},{"year":2014,"month":6,"date":1}],"tickCount":50,"format":"%B","labelAngle":90,"labelAlign":"left","labelBaseline":"middle","labelFlush":false,"labelOverlap":false,"labelBound":false,"domain":false,"ticks":false,"grid":false,"labelFont":"Lato","labelFontSize":15,"labelFontWeight":"bold","labelColor":"#111111","labelPadding":6,"title":null}},"y":{"field":"t","type":"quantitative"}}}
  ]},
  {"mark":{"type":"line","color":"#2b4660","strokeWidth":1,"opacity":0.85,"clip":true},"encoding":{"x":{"field":"d","type":"temporal"},"y":{"field":"w","type":"quantitative","scale":{"domain":[-0.1,0.4],"nice":false},"axis":{"orient":"right","values":[-0.1,-0.075,-0.05,-0.025,0,0.025,0.05,0.075,0.1,0.125,0.15,0.175,0.2,0.225,0.25,0.275,0.3,0.325,0.35,0.375,0.4],"tickCount":50,"labels":false,"domainColor":"#8a8a8a","tickColor":"#707070","tickSize":6,"grid":false,"title":null}}}}
 ],
 "resolve":{"scale":{"y":"independent"}}},
{"width":306,"height":217,"data":{"name":"WD"},
 "layer":[
  {"layer":[
   {"data":{"values":[{}]},"mark":{"type":"rule","color":"#a0a0a0","strokeWidth":1},"encoding":{"y":{"datum":0,"type":"quantitative","scale":{"domain":[-10,40],"nice":false},"axis":{"values":[-10,-5,0,5,10,15,20,25,30,35,40],"tickCount":50,"labels":false,"domainColor":"#8a8a8a","tickColor":"#707070","tickSize":6,"grid":false,"title":null}}}},
   {"data":{"name":"months"},"mark":{"type":"tick","orient":"vertical","size":9,"thickness":1,"color":"#555555"},"encoding":{"x":{"field":"m","type":"temporal","scale":{"domain":[{"year":2013,"month":10,"date":1},{"year":2014,"month":6,"date":22}],"nice":false}},"y":{"datum":0,"type":"quantitative"}}},
   {"mark":{"type":"line","color":"#b8453f","strokeWidth":1,"opacity":0.6,"clip":true},"encoding":{"x":{"field":"d","type":"temporal","axis":{"values":[{"year":2013,"month":10,"date":1},{"year":2013,"month":11,"date":1},{"year":2013,"month":12,"date":1},{"year":2014,"month":1,"date":1},{"year":2014,"month":2,"date":1},{"year":2014,"month":3,"date":1},{"year":2014,"month":4,"date":1},{"year":2014,"month":5,"date":1},{"year":2014,"month":6,"date":1}],"tickCount":50,"format":"%B","labelAngle":90,"labelAlign":"left","labelBaseline":"middle","labelFlush":false,"labelOverlap":false,"labelBound":false,"domain":false,"ticks":false,"grid":false,"labelFont":"Lato","labelFontSize":15,"labelFontWeight":"bold","labelColor":"#111111","labelPadding":6,"title":null}},"y":{"field":"t","type":"quantitative"}}}
  ]},
  {"mark":{"type":"line","color":"#2b4660","strokeWidth":1,"opacity":0.85,"clip":true},"encoding":{"x":{"field":"d","type":"temporal"},"y":{"field":"w","type":"quantitative","scale":{"domain":[-0.1,0.4],"nice":false},"axis":{"orient":"right","values":[-0.1,-0.075,-0.05,-0.025,0,0.025,0.05,0.075,0.1,0.125,0.15,0.175,0.2,0.225,0.25,0.275,0.3,0.325,0.35,0.375,0.4],"tickCount":50,"labels":false,"domainColor":"#8a8a8a","tickColor":"#707070","tickSize":6,"grid":false,"title":null}}}}
 ],
 "resolve":{"scale":{"y":"independent"}}},
{"width":286,"height":217,"data":{"name":"KD"},
 "layer":[
  {"layer":[
   {"data":{"values":[{}]},"mark":{"type":"rule","color":"#a0a0a0","strokeWidth":1},"encoding":{"y":{"datum":0,"type":"quantitative","scale":{"domain":[-10,40],"nice":false},"axis":{"values":[-10,-5,0,5,10,15,20,25,30,35,40],"tickCount":50,"labels":false,"domainColor":"#8a8a8a","tickColor":"#707070","tickSize":6,"grid":false,"title":null}}}},
   {"data":{"name":"months"},"mark":{"type":"tick","orient":"vertical","size":9,"thickness":1,"color":"#555555"},"encoding":{"x":{"field":"m","type":"temporal","scale":{"domain":[{"year":2013,"month":10,"date":1},{"year":2014,"month":6,"date":22}],"nice":false}},"y":{"datum":0,"type":"quantitative"}}},
   {"mark":{"type":"line","color":"#b8453f","strokeWidth":1,"opacity":0.6,"clip":true},"encoding":{"x":{"field":"d","type":"temporal","axis":{"values":[{"year":2013,"month":10,"date":1},{"year":2013,"month":11,"date":1},{"year":2013,"month":12,"date":1},{"year":2014,"month":1,"date":1},{"year":2014,"month":2,"date":1},{"year":2014,"month":3,"date":1},{"year":2014,"month":4,"date":1},{"year":2014,"month":5,"date":1},{"year":2014,"month":6,"date":1}],"tickCount":50,"format":"%B","labelAngle":90,"labelAlign":"left","labelBaseline":"middle","labelFlush":false,"labelOverlap":false,"labelBound":false,"domain":false,"ticks":false,"grid":false,"labelFont":"Lato","labelFontSize":15,"labelFontWeight":"bold","labelColor":"#111111","labelPadding":6,"title":null}},"y":{"field":"t","type":"quantitative"}}}
  ]},
  {"mark":{"type":"line","color":"#2b4660","strokeWidth":1,"opacity":0.85,"clip":true},"encoding":{"x":{"field":"d","type":"temporal"},"y":{"field":"w","type":"quantitative","scale":{"domain":[-0.1,0.4],"nice":false},"axis":{"orient":"right","values":[-0.1,-0.075,-0.05,-0.025,0,0.025,0.05,0.075,0.1,0.125,0.15,0.175,0.2,0.225,0.25,0.275,0.3,0.325,0.35,0.375,0.4],"tickCount":50,"labelExpr":"abs(datum.value*20 - round(datum.value*20)) < 0.001 ? '' + datum.value : ''","labelFont":"Lato","labelFontSize":14,"labelFontWeight":"bold","labelColor":"#1a1a1a","labelPadding":8,"domainColor":"#8a8a8a","tickColor":"#707070","tickSize":6,"grid":false,"title":null}}}}
 ],
 "resolve":{"scale":{"y":"independent"}}}
]
}
